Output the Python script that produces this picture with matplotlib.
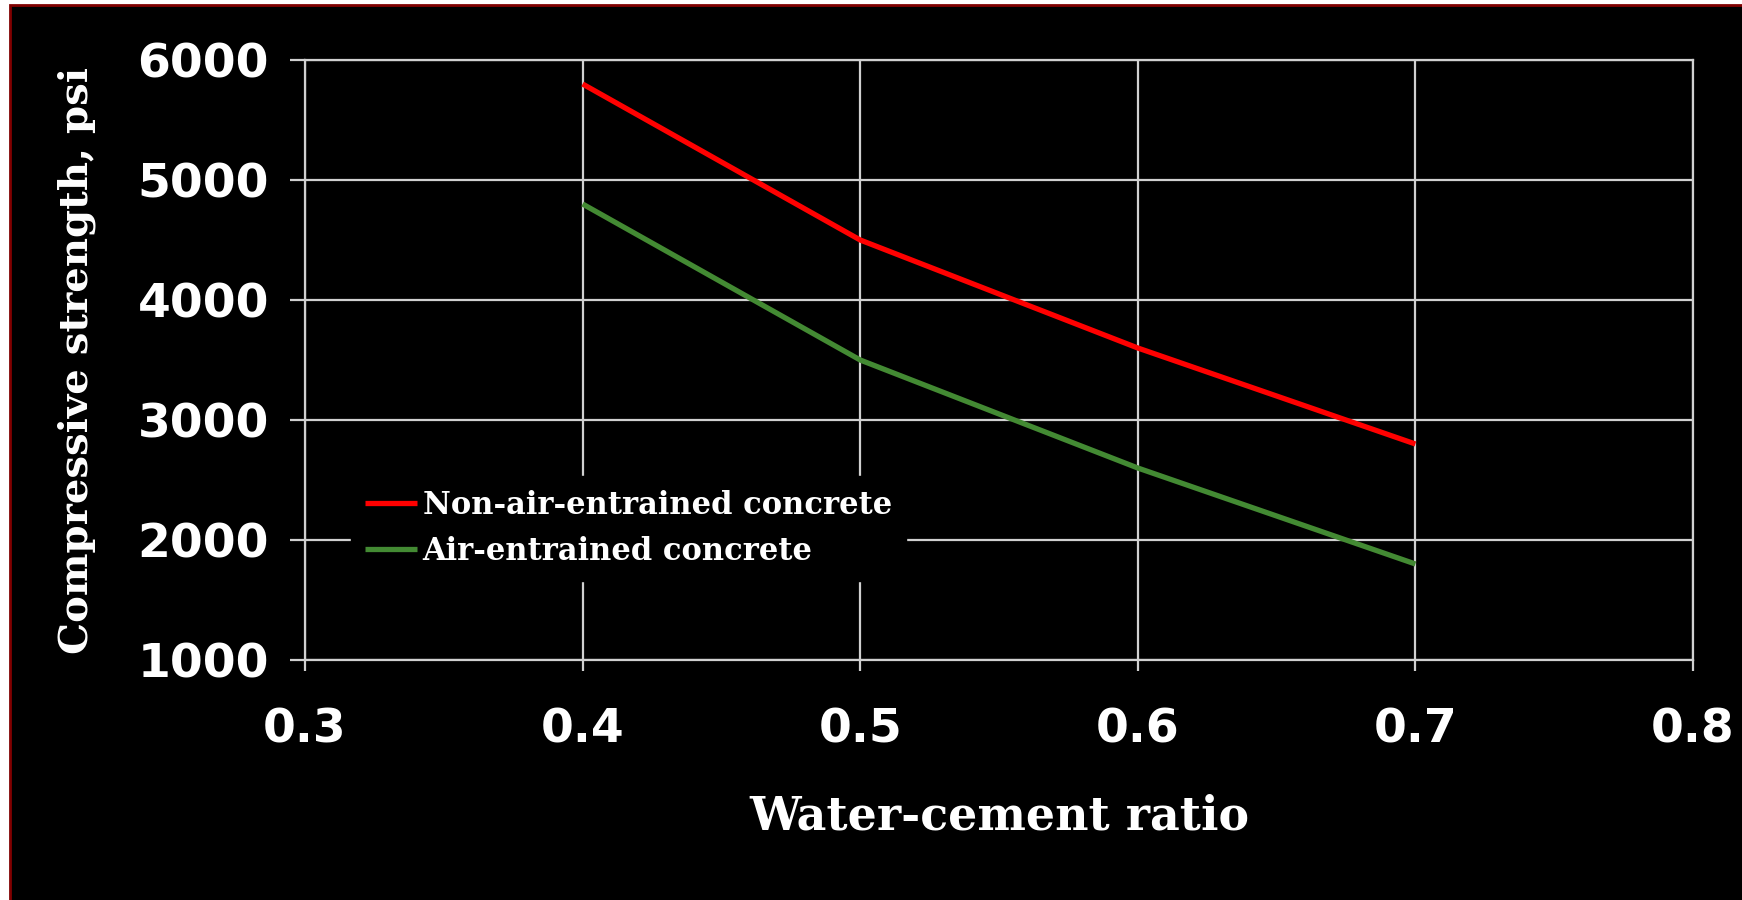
import matplotlib.pyplot as plt
from matplotlib.patches import Rectangle

# water-cement ratio vs compressive strength
wc_ratio = [0.4, 0.5, 0.6, 0.7]
non_air = [5800, 4500, 3600, 2800]
air = [4800, 3500, 2600, 1800]
xticks = [0.3, 0.4, 0.5, 0.6, 0.7, 0.8]
yticks = [1000, 2000, 3000, 4000, 5000, 6000]

grid_col = '#d0d0d0'

fig = plt.figure(figsize=(17.42, 9.0), dpi=100, facecolor='white')
# black panel with thin dark red edge
fig.patches.append(Rectangle((10 / 1742, -0.01), 1.02, 1.004,
                             transform=fig.transFigure, facecolor='black',
                             edgecolor='#800000', lw=2, zorder=-10))

ax = fig.add_axes([305 / 1742, 240 / 900, 1388 / 1742, 600 / 900])
ax.set_facecolor('black')

ax.plot(wc_ratio, non_air, color='#ff0000', lw=3.8, label='Non-air-entrained concrete',
        solid_capstyle='butt', zorder=3)
ax.plot(wc_ratio, air, color='#438a33', lw=3.8, label='Air-entrained concrete',
        solid_capstyle='butt', zorder=3)

ax.set_xlim(0.3, 0.8)
ax.set_ylim(1000, 6000)
ax.set_xticks(xticks)
ax.set_yticks(yticks)
ax.set_xticklabels([f'{v:.1f}' for v in xticks])
ax.set_yticklabels([str(v) for v in yticks])
ax.grid(True, color=grid_col, lw=1.6, zorder=1)
for s in ax.spines.values():
    s.set_color(grid_col)
    s.set_linewidth(1.6)

ax.tick_params(axis='both', colors=grid_col, width=1.6)
ax.tick_params(axis='y', length=11, pad=15)
ax.tick_params(axis='x', length=8, pad=26)
for lbl in ax.get_xticklabels() + ax.get_yticklabels():
    lbl.set_color('white')
    lbl.set_fontfamily('DejaVu Sans')
    lbl.set_fontweight('bold')
    lbl.set_fontsize(34)

ax.set_xlabel('Water-cement ratio', color='white', fontsize=33, fontweight='bold',
              family='DejaVu Serif', labelpad=30)
ax.set_ylabel('Compressive strength, psi', color='white', fontsize=29, fontweight='bold',
              family='DejaVu Serif', labelpad=30)

leg = ax.legend(loc='upper left', bbox_to_anchor=(0.022, 0.332), frameon=True,
                facecolor='black', edgecolor='black', framealpha=1,
                prop={'family': 'DejaVu Serif', 'weight': 'bold', 'size': 22},
                handlelength=1.7, handletextpad=0.2, labelspacing=0.5,
                borderpad=0.45, fancybox=False)
for t in leg.get_texts():
    t.set_color('white')
leg.set_zorder(5)

fig.savefig('out.png', dpi=100, facecolor='white')
